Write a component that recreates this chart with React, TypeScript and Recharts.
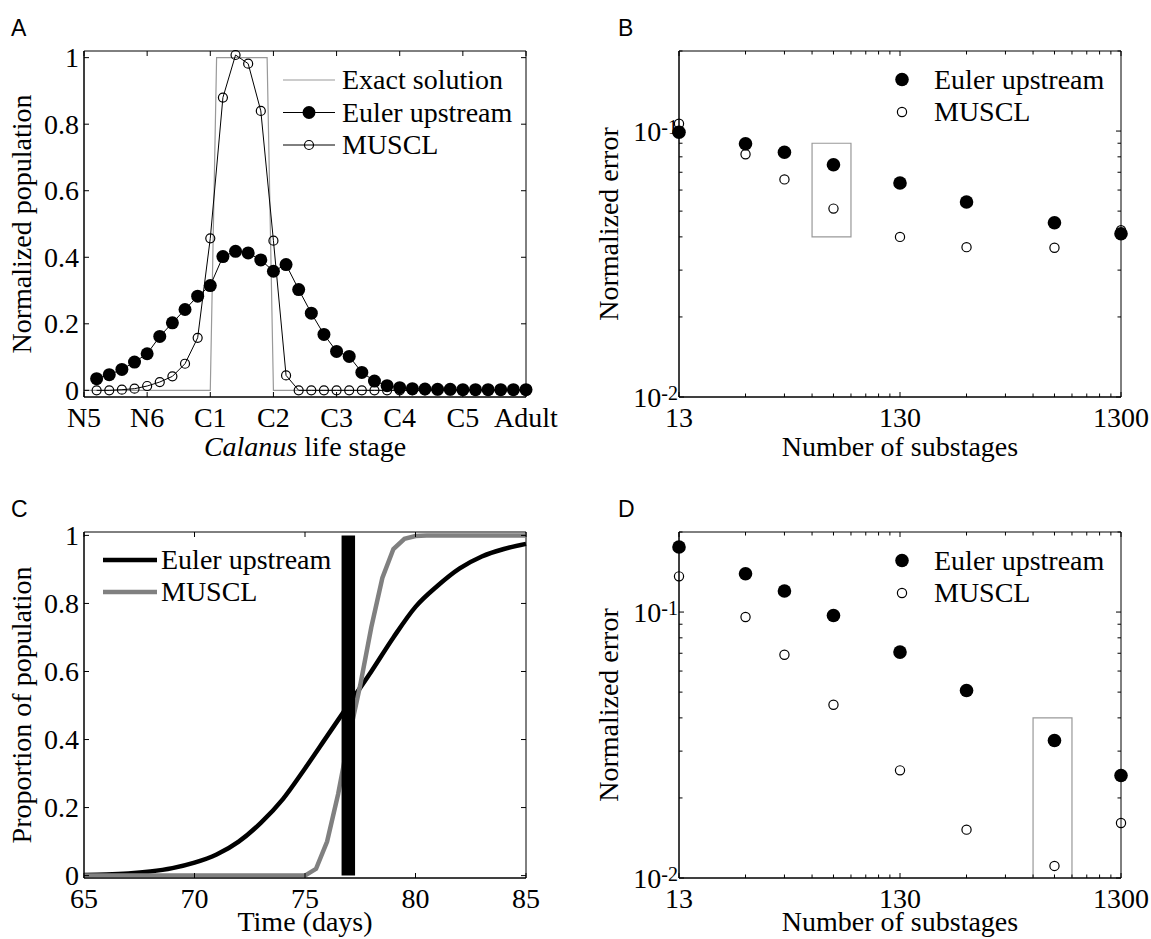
import React from "react";
import {
    ComposedChart,
    ScatterChart,
    Line,
    Scatter,
    XAxis,
    YAxis,
    ReferenceArea,
} from "recharts";

const SERIF = '"Liberation Serif", "Times New Roman", serif';
const SANS = '"Liberation Sans", Arial, sans-serif';
const FS = 28;

// Panel A: population along the life stages
const STAGE_POS = [
    0.2, 0.4, 0.6, 0.8, 1.0, 1.2, 1.4, 1.6, 1.8, 2.0, 2.2, 2.4, 2.6, 2.8, 3.0, 3.2, 3.4, 3.6,
    3.8, 4.0, 4.2, 4.4, 4.6, 4.8, 5.0, 5.2, 5.4, 5.6, 5.8, 6.0, 6.2, 6.4, 6.6, 6.8, 7.0,
];
const EULER_A = [
    0.035, 0.047, 0.063, 0.085, 0.11, 0.162, 0.203, 0.243, 0.283, 0.315, 0.402, 0.418, 0.413,
    0.392, 0.358, 0.378, 0.303, 0.232, 0.168, 0.117, 0.102, 0.054, 0.028, 0.014, 0.008, 0.005,
    0.004, 0.003, 0.003, 0.002, 0.002, 0.002, 0.002, 0.002, 0.002,
];
const MUSCL_A = [
    0.0, 0.0, 0.002, 0.005, 0.013, 0.025, 0.042, 0.08, 0.158, 0.457, 0.88, 1.008, 0.982, 0.84,
    0.45, 0.045, 0.0, 0.0, 0.0, 0.0, 0.0, 0.0, 0.0, 0.0, 0.0, 0.0, 0.0, 0.0, 0.0, 0.0, 0.0, 0.0,
    0.0, 0.0, 0.0,
];
const EXACT_X = [0, 2.0, 2.1, 2.9, 3.0, 7];
const EXACT_Y = [0, 0, 1, 1, 0, 0];
const STAGE_TICKS = [0, 1, 2, 3, 4, 5, 6, 7];
const STAGE_LABELS = ["N5", "N6", "C1", "C2", "C3", "C4", "C5", "Adult"];
const LIN_TICKS = [0, 0.2, 0.4, 0.6, 0.8, 1];
const LIN_LABELS = ["0", "0.2", "0.4", "0.6", "0.8", "1"];

// Panels B and D: error against number of substages
const SUBSTAGES = [13, 26, 39, 65, 130, 260, 650, 1300];
const EULER_B = [0.099, 0.0896, 0.0832, 0.0747, 0.0638, 0.0541, 0.0452, 0.0411];
const MUSCL_B = [0.1065, 0.0818, 0.0658, 0.0511, 0.04, 0.0366, 0.0364, 0.0424];
const EULER_D = [0.1757, 0.1394, 0.12, 0.0971, 0.0707, 0.0507, 0.0329, 0.0243];
const MUSCL_D = [0.1362, 0.0958, 0.0691, 0.0448, 0.0254, 0.0152, 0.0111, 0.0161];
const BOX_B = { x1: 52, x2: 78, y1: 0.04, y2: 0.09 };
const BOX_D = { x1: 520, x2: 780, y1: 0.01, y2: 0.04 };
const SUB_TICKS = [13, 26, 39, 52, 65, 78, 91, 104, 117, 130, 260, 390, 520, 650, 780, 910, 1040, 1170, 1300];
const SUB_MAJOR = [13, 130, 1300];
const ERR_TICKS = [0.01, 0.02, 0.03, 0.04, 0.05, 0.06, 0.07, 0.08, 0.09, 0.1, 0.2];
const ERR_MAJOR = [0.01, 0.1];
const ERR_EXP = ["-2", "-1"];

// Panel C: proportion over time
const DAYS = [65, 66, 67, 68, 69, 70, 71, 72, 73, 74, 75, 76, 77, 78, 79, 80, 81, 82, 83, 84, 85];
const EULER_C = [
    0.002, 0.003, 0.006, 0.012, 0.022, 0.038, 0.062, 0.1, 0.155, 0.225, 0.315, 0.41, 0.505, 0.6,
    0.7, 0.79, 0.852, 0.903, 0.938, 0.96, 0.975,
];
const MUSCL_C_T = [65, 75, 75.5, 76, 76.5, 77, 77.5, 78, 78.5, 79, 79.5, 80, 80.5, 85];
const MUSCL_C = [0, 0, 0.02, 0.1, 0.24, 0.41, 0.56, 0.73, 0.875, 0.96, 0.99, 0.998, 1, 1];
const EXACT_C_T = [76.96, 76.96];
const EXACT_C = [0, 1];
const DAY_TICKS = [65, 70, 75, 80, 85];

const pts = (xs: number[], ys: number[]) => xs.map((x, i) => ({ x, y: ys[i] }));

// layout of each chart box
const PLOT_W = 442;
const PLOT_H = 346;
const AXIS_W = 84;
const TOP = 51;
const CH = 470;
const XH = 60;
const margin = (w: number) => ({
    top: TOP,
    left: 0,
    right: w - AXIS_W - PLOT_W,
    bottom: CH - TOP - PLOT_H - XH,
});

// ticks point inward and are mirrored on the opposite side
const xTick = (labelOf: (v: number) => string, major: number[] | null) => (p: any) => {
    const v = p.payload.value;
    const isMajor = !major || major.includes(v);
    const len = isMajor ? 5 : 3.5;
    return (
        <g key={`xt-${v}`}>
            <line x1={p.x} x2={p.x} y1={p.y} y2={p.y - len} stroke="#000" />
            <line x1={p.x} x2={p.x} y1={p.y - PLOT_H} y2={p.y - PLOT_H + len} stroke="#000" />
            {isMajor && (
                <text x={p.x} y={p.y + 30} textAnchor="middle" fontFamily={SERIF} fontSize={FS} fill="#000">
                    {labelOf(v)}
                </text>
            )}
        </g>
    );
};

const linYTick = (p: any) => {
    const v = p.payload.value;
    return (
        <g key={`yt-${v}`}>
            <line x1={p.x} x2={p.x + 5} y1={p.y} y2={p.y} stroke="#000" />
            <line x1={p.x + PLOT_W} x2={p.x + PLOT_W - 5} y1={p.y} y2={p.y} stroke="#000" />
            <text x={p.x - 5} y={p.y + 9.5} textAnchor="end" fontFamily={SERIF} fontSize={FS} fill="#000">
                {LIN_LABELS[LIN_TICKS.indexOf(v)]}
            </text>
        </g>
    );
};

const logYTick = (p: any) => {
    const v = p.payload.value;
    const k = ERR_MAJOR.indexOf(v);
    const len = k >= 0 ? 5 : 3.5;
    return (
        <g key={`yt-${v}`}>
            <line x1={p.x} x2={p.x + len} y1={p.y} y2={p.y} stroke="#000" />
            <line x1={p.x + PLOT_W} x2={p.x + PLOT_W - len} y1={p.y} y2={p.y} stroke="#000" />
            {k >= 0 && (
                <text x={p.x - 1} y={p.y + 9.5} textAnchor="end" fontFamily={SERIF} fontSize={FS} fill="#000">
                    10
                    <tspan dy={-7} fontSize={20}>
                        {ERR_EXP[k]}
                    </tspan>
                </text>
            )}
        </g>
    );
};

const axisCommon = {
    tickLine: false,
    tickSize: 0,
    tickMargin: 0,
    interval: 0 as const,
    axisLine: { stroke: "#000" },
};

const filledDot = (r: number) => (p: any) => (
    <circle key={`f-${p.index}`} cx={p.cx} cy={p.cy} r={r} fill="#000" />
);
const openDot = (r: number) => (p: any) => (
    <circle key={`o-${p.index}`} cx={p.cx} cy={p.cy} r={r} fill="none" stroke="#000" strokeWidth={1.2} />
);

const StageChart = () => (
    <ComposedChart width={575} height={CH} margin={margin(575)}>
        <XAxis
            type="number"
            dataKey="x"
            domain={[0, 7]}
            ticks={STAGE_TICKS}
            height={XH}
            tick={xTick((v) => STAGE_LABELS[v], null)}
            {...axisCommon}
        />
        <YAxis type="number" dataKey="y" domain={[-0.02, 1.02]} ticks={LIN_TICKS} width={AXIS_W} tick={linYTick} {...axisCommon} />
        <ReferenceArea x1={0} x2={7} y1={-0.02} y2={1.02} fill="none" stroke="#000" ifOverflow="visible" />
        <Line data={pts(EXACT_X, EXACT_Y)} dataKey="y" type="linear" stroke="#999" strokeWidth={1.2} dot={false} activeDot={false} isAnimationActive={false} />
        <Line data={pts(STAGE_POS, MUSCL_A)} dataKey="y" type="linear" stroke="#000" strokeWidth={1} dot={openDot(4.5)} activeDot={false} isAnimationActive={false} />
        <Line data={pts(STAGE_POS, EULER_A)} dataKey="y" type="linear" stroke="#000" strokeWidth={1} dot={filledDot(6.5)} activeDot={false} isAnimationActive={false} />
    </ComposedChart>
);

const ErrorChart = ({ euler, muscl, box }: { euler: number[]; muscl: number[]; box: typeof BOX_B }) => (
    <ScatterChart width={556} height={CH} margin={margin(556)}>
        <XAxis
            type="number"
            dataKey="x"
            scale="log"
            domain={[13, 1300]}
            ticks={SUB_TICKS}
            height={XH}
            tick={xTick((v) => String(v), SUB_MAJOR)}
            {...axisCommon}
        />
        <YAxis type="number" dataKey="y" scale="log" domain={[0.01, 0.2]} ticks={ERR_TICKS} width={AXIS_W} tick={logYTick} {...axisCommon} />
        <ReferenceArea x1={13} x2={1300} y1={0.01} y2={0.2} fill="none" stroke="#000" ifOverflow="visible" />
        <ReferenceArea x1={box.x1} x2={box.x2} y1={box.y1} y2={box.y2} fill="none" stroke="#999" strokeWidth={1.2} ifOverflow="visible" />
        <Scatter data={pts(SUBSTAGES, muscl)} shape={openDot(4.6)} isAnimationActive={false} />
        <Scatter data={pts(SUBSTAGES, euler)} shape={filledDot(6.8)} isAnimationActive={false} />
    </ScatterChart>
);

const TimeChart = () => (
    <ComposedChart width={575} height={CH} margin={margin(575)}>
        <XAxis
            type="number"
            dataKey="x"
            domain={[65, 85]}
            ticks={DAY_TICKS}
            height={XH}
            tick={xTick((v) => String(v), null)}
            {...axisCommon}
        />
        <YAxis type="number" dataKey="y" domain={[-0.007, 1.01]} ticks={LIN_TICKS} width={AXIS_W} tick={linYTick} {...axisCommon} />
        <ReferenceArea x1={65} x2={85} y1={-0.007} y2={1.01} fill="none" stroke="#000" ifOverflow="visible" />
        <Line data={pts(DAYS, EULER_C)} dataKey="y" type="monotone" stroke="#000" strokeWidth={4.5} dot={false} activeDot={false} isAnimationActive={false} />
        <Line data={pts(MUSCL_C_T, MUSCL_C)} dataKey="y" type="linear" stroke="#808080" strokeWidth={4.5} dot={false} activeDot={false} isAnimationActive={false} />
        <Line data={pts(EXACT_C_T, EXACT_C)} dataKey="y" type="linear" stroke="#000" strokeWidth={13.5} dot={false} activeDot={false} isAnimationActive={false} />
    </ComposedChart>
);

const txt = { fontFamily: SERIF, fontSize: FS, fill: "#000" };

const YTitle = ({ x, y, children }: { x: number; y: number; children: React.ReactNode }) => (
    <text x={x} y={y} transform={`rotate(-90, ${x}, ${y})`} textAnchor="middle" {...txt}>
        {children}
    </text>
);

const ScatterLegend = ({ top }: { top: number }) => (
    <g>
        <circle cx={902} cy={top + 28.5} r={6.8} fill="#000" />
        <text x={934} y={top + 37.5} {...txt}>Euler upstream</text>
        <circle cx={902} cy={top + 61} r={4.6} fill="none" stroke="#000" strokeWidth={1.2} />
        <text x={934} y={top + 70} {...txt}>MUSCL</text>
    </g>
);

const Annotations = () => (
    <svg width={1151} height={939} style={{ position: "absolute", left: 0, top: 0, pointerEvents: "none" }}>
        <g fontFamily={SANS} fontSize={23} fill="#000">
            <text x={11} y={36}>A</text>
            <text x={618} y={36}>B</text>
            <text x={11} y={517}>C</text>
            <text x={618} y={517}>D</text>
        </g>

        <text x={305} y={456} textAnchor="middle" {...txt}>
            <tspan fontStyle="italic">Calanus</tspan> life stage
        </text>
        <text x={900} y={456} textAnchor="middle" {...txt}>Number of substages</text>
        <text x={305} y={931} textAnchor="middle" {...txt}>Time (days)</text>
        <text x={900} y={931} textAnchor="middle" {...txt}>Number of substages</text>

        <YTitle x={31} y={224}>Normalized population</YTitle>
        <YTitle x={618} y={224}>Normalized error</YTitle>
        <YTitle x={31} y={705}>Proportion of population</YTitle>
        <YTitle x={618} y={705}>Normalized error</YTitle>

        {/* legend A */}
        <line x1={283} x2={335} y1={80} y2={80} stroke="#999" strokeWidth={1.2} />
        <text x={342} y={89} {...txt}>Exact solution</text>
        <line x1={283} x2={335} y1={112.5} y2={112.5} stroke="#000" />
        <circle cx={309} cy={112.5} r={6.5} fill="#000" />
        <text x={342} y={121.5} {...txt}>Euler upstream</text>
        <line x1={283} x2={335} y1={145} y2={145} stroke="#000" />
        <circle cx={309} cy={145} r={4.5} fill="none" stroke="#000" strokeWidth={1.2} />
        <text x={342} y={154} {...txt}>MUSCL</text>

        {/* legend C */}
        <line x1={103} x2={157} y1={560} y2={560} stroke="#000" strokeWidth={4.5} />
        <text x={161} y={569} {...txt}>Euler upstream</text>
        <line x1={103} x2={157} y1={592} y2={592} stroke="#808080" strokeWidth={4.5} />
        <text x={161} y={601} {...txt}>MUSCL</text>

        <ScatterLegend top={51} />
        <ScatterLegend top={532} />
    </svg>
);

const at = (left: number, top: number): React.CSSProperties => ({ position: "absolute", left, top });

export default function App() {
    return (
        <div style={{ position: "absolute", left: 0, top: 0, width: 1151, height: 939, overflow: "hidden", background: "#fff" }}>
            <div style={at(0, 0)}>
                <StageChart />
            </div>
            <div style={at(595, 0)}>
                <ErrorChart euler={EULER_B} muscl={MUSCL_B} box={BOX_B} />
            </div>
            <div style={at(0, 481)}>
                <TimeChart />
            </div>
            <div style={at(595, 481)}>
                <ErrorChart euler={EULER_D} muscl={MUSCL_D} box={BOX_D} />
            </div>
            <Annotations />
        </div>
    );
}
